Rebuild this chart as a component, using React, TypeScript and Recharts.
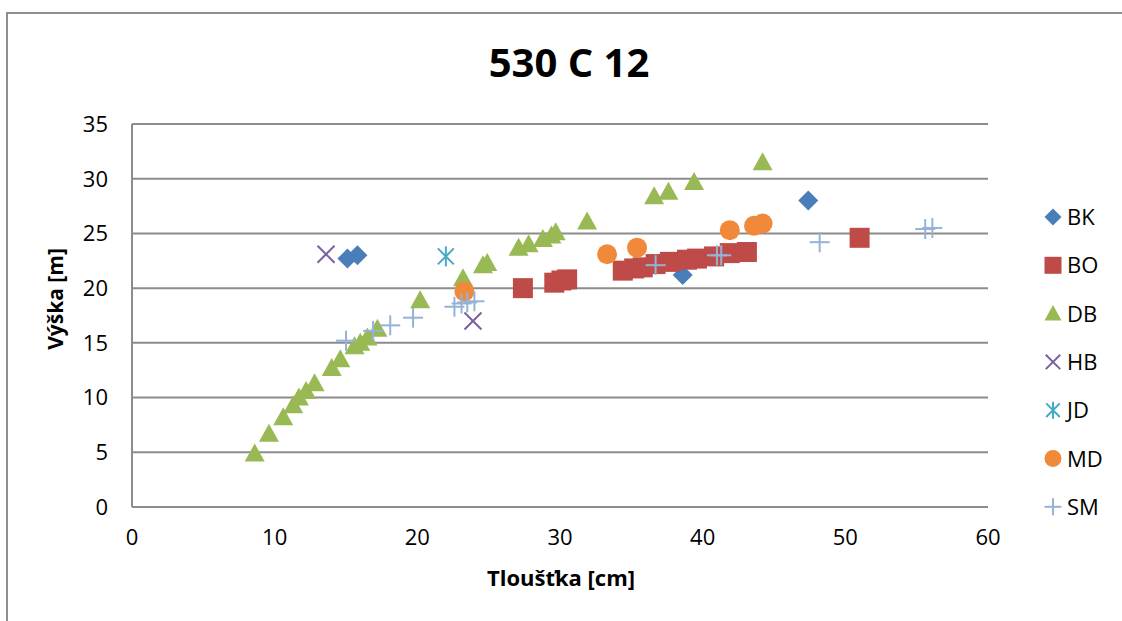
import { ScatterChart, Scatter, XAxis, YAxis, CartesianGrid } from "recharts";

type Pt = [number, number];

// tree diameter [cm] vs height [m], one list per species
const bk: Pt[] = [[15.1, 22.7], [15.8, 23.0], [38.6, 21.2], [47.4, 28.0]];
const bo: Pt[] = [
  [27.4, 20.0], [29.6, 20.5], [30.1, 20.7], [30.5, 20.8], [34.4, 21.6],
  [35.2, 21.8], [35.8, 21.9], [36.7, 22.2], [37.7, 22.4], [38.9, 22.6],
  [39.6, 22.7], [40.8, 22.9], [41.9, 23.2], [43.1, 23.3], [51.0, 24.6],
];
const db: Pt[] = [
  [8.6, 4.9], [9.6, 6.7], [10.6, 8.2], [11.3, 9.3], [11.7, 10.0], [12.2, 10.6],
  [12.8, 11.3], [14.0, 12.7], [14.6, 13.5], [15.6, 14.7], [16.0, 15.0], [16.5, 15.5],
  [17.2, 16.3], [20.2, 18.9], [23.2, 20.9], [24.6, 22.1], [24.9, 22.3], [27.1, 23.7],
  [27.8, 24.0], [28.8, 24.5], [29.4, 24.8], [29.7, 25.1], [31.9, 26.1], [36.6, 28.4],
  [37.6, 28.8], [39.4, 29.7], [44.2, 31.5],
];
const hb: Pt[] = [[13.6, 23.1], [23.9, 17.0]];
const jd: Pt[] = [[22.0, 22.9]];
const md: Pt[] = [[23.3, 19.7], [33.3, 23.1], [35.4, 23.7], [41.9, 25.3], [43.6, 25.7], [44.2, 25.9]];
const sm: Pt[] = [
  [15.0, 15.2], [16.9, 16.1], [18.1, 16.6], [19.7, 17.3], [22.6, 18.3], [23.1, 18.6],
  [23.5, 18.7], [24.0, 18.8], [36.7, 22.1], [41.0, 23.0], [41.3, 23.0], [48.2, 24.2],
  [55.6, 25.4], [56.1, 25.5],
];

const xTicks = [0, 10, 20, 30, 40, 50, 60];
const yTicks = [0, 5, 10, 15, 20, 25, 30, 35];

type Kind = "diamond" | "square" | "triangle" | "x" | "star" | "circle" | "plus";

const series: { name: string; data: Pt[]; kind: Kind; color: string }[] = [
  { name: "BK", data: bk, kind: "diamond", color: "#4A7EBB" },
  { name: "BO", data: bo, kind: "square", color: "#BE4B48" },
  { name: "DB", data: db, kind: "triangle", color: "#98B954" },
  { name: "HB", data: hb, kind: "x", color: "#7D60A0" },
  { name: "JD", data: jd, kind: "star", color: "#46AAC5" },
  { name: "MD", data: md, kind: "circle", color: "#F08A3A" },
  { name: "SM", data: sm, kind: "plus", color: "#95B3D7" },
];

const FONT = "'Open Sans', sans-serif";

function Marker({ kind, cx, cy, s, color }: { kind: Kind; cx: number; cy: number; s: number; color: string }) {
  const h = s / 2;
  switch (kind) {
    case "diamond":
      return <polygon points={`${cx},${cy - h} ${cx + h},${cy} ${cx},${cy + h} ${cx - h},${cy}`} fill={color} />;
    case "square":
      return <rect x={cx - h} y={cy - h} width={s} height={s} fill={color} />;
    case "triangle":
      return <polygon points={`${cx},${cy - h} ${cx + h},${cy + h * 0.8} ${cx - h},${cy + h * 0.8}`} fill={color} />;
    case "circle":
      return <circle cx={cx} cy={cy} r={h} fill={color} />;
    case "x": {
      const d = h * 0.85;
      return (
        <g stroke={color} strokeWidth={2}>
          <line x1={cx - d} y1={cy - d} x2={cx + d} y2={cy + d} />
          <line x1={cx - d} y1={cy + d} x2={cx + d} y2={cy - d} />
        </g>
      );
    }
    case "star": {
      const d = h * 0.8;
      return (
        <g stroke={color} strokeWidth={2}>
          <line x1={cx - d} y1={cy - d} x2={cx + d} y2={cy + d} />
          <line x1={cx - d} y1={cy + d} x2={cx + d} y2={cy - d} />
          <line x1={cx} y1={cy - h} x2={cx} y2={cy + h} />
        </g>
      );
    }
    case "plus":
      return (
        <g stroke={color} strokeWidth={2}>
          <line x1={cx - h} y1={cy} x2={cx + h} y2={cy} />
          <line x1={cx} y1={cy - h} x2={cx} y2={cy + h} />
        </g>
      );
  }
}

export default function App() {
  return (
    <div style={{ position: "absolute", left: 0, top: 0, width: 1122, height: 621, overflow: "hidden", background: "#fff" }}>
      <div style={{ position: "absolute", left: 6, top: 12, width: 1300, height: 800, border: "2px solid #8e8e8e" }} />
      <div style={{ position: "absolute", left: 0, top: 0 }}>
        <ScatterChart width={1122} height={621} margin={{ top: 124, right: 134, bottom: 84, left: 72 }}>
          <CartesianGrid vertical={false} stroke="#8c8c8c" strokeWidth={2} />
          <XAxis
            type="number"
            dataKey="x"
            domain={[0, 60]}
            ticks={xTicks}
            height={30}
            axisLine={false}
            tickLine={false}
            tickSize={0}
            tickMargin={22}
            tick={{ fill: "#000", fontSize: 22, fontFamily: FONT }}
          />
          <YAxis
            type="number"
            dataKey="y"
            domain={[0, 35]}
            ticks={yTicks}
            width={60}
            axisLine={{ stroke: "#8c8c8c", strokeWidth: 2 }}
            tickLine={false}
            tickSize={0}
            tickMargin={24}
            tick={{ fill: "#000", fontSize: 22, fontFamily: FONT }}
          />
          {series.map((s) => (
            <Scatter
              key={s.name}
              name={s.name}
              data={s.data.map(([x, y]) => ({ x, y }))}
              isAnimationActive={false}
              shape={(p: any) => <Marker kind={s.kind} cx={p.cx} cy={p.cy} s={20} color={s.color} />}
            />
          ))}
        </ScatterChart>
      </div>
      <svg width={1122} height={621} style={{ position: "absolute", left: 0, top: 0, pointerEvents: "none" }}>
        <text x={569} y={77} textAnchor="middle" fontFamily={FONT} fontWeight="bold" fontSize={40}>
          530 C 12
        </text>
        <text x={561} y={586} textAnchor="middle" fontFamily={FONT} fontWeight="bold" fontSize={22}>
          Tloušťka [cm]
        </text>
        <text x={63} y={299} textAnchor="middle" fontFamily={FONT} fontWeight="bold" fontSize={21} transform="rotate(-90 63 299)">
          Výška [m]
        </text>
        {series.map((s, i) => {
          const cy = 217 + i * 48.3;
          return (
            <g key={s.name}>
              <Marker kind={s.kind} cx={1053} cy={cy} s={17} color={s.color} />
              <text x={1067} y={cy + 8} fontFamily={FONT} fontSize={22}>
                {s.name}
              </text>
            </g>
          );
        })}
      </svg>
    </div>
  );
}
